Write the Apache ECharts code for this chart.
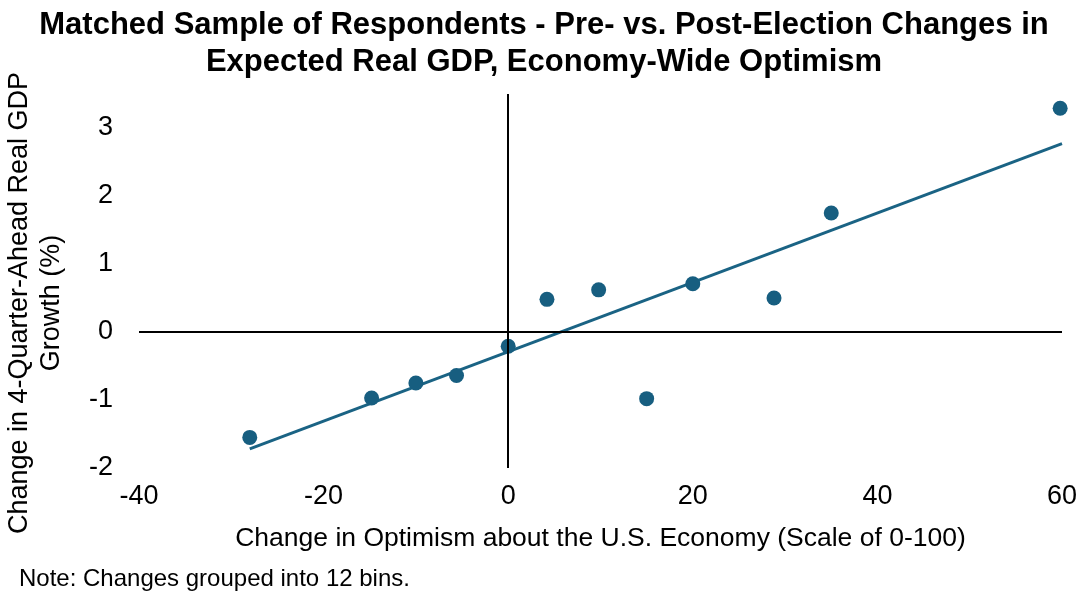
<!DOCTYPE html>
<html>
<head>
<meta charset="utf-8">
<script src="https://cdn.jsdelivr.net/npm/echarts@6/dist/echarts.min.js"></script>
<style>
  html, body { margin:0; padding:0; background:#fff; }
  #chart { width:1088px; height:602px; }
</style>
</head>
<body>
<div id="chart"></div>
<script>
// binned changes: optimism (x) vs expected real GDP growth (y)
var optimismChange = [-28, -14.8, -10, -5.6, 0, 4.2, 9.8, 15, 20, 28.8, 35, 59.8];
var gdpChange = [-1.55, -0.97, -0.75, -0.64, -0.21, 0.48, 0.62, -0.98, 0.71, 0.50, 1.75, 3.29];
// fitted line end points
var fitX = [-28, 60];
var fitY = [-1.72, 2.77];

var titleText = 'Matched Sample of Respondents - Pre- vs. Post-Election Changes in\nExpected Real GDP, Economy-Wide Optimism';
var xName = 'Change in Optimism about the U.S. Economy (Scale of 0-100)';
var yName = 'Change in 4-Quarter-Ahead Real GDP\nGrowth (%)';
var noteText = 'Note: Changes grouped into 12 bins.';

var FONT = 'Arial, "Liberation Sans", sans-serif';
var DOT = '#175E80';
var LINE = '#1A6384';

var chart = echarts.init(document.getElementById('chart'), null, {renderer:'canvas'});

var points = [];
for (var i = 0; i < optimismChange.length; i++) {
  points.push([optimismChange[i], gdpChange[i]]);
}
var fitPoints = [];
for (var j = 0; j < fitX.length; j++) {
  fitPoints.push([fitX[j], fitY[j]]);
}

var option = {
  animation:false,
  backgroundColor:'#fff',
  title:[
    {
      text:titleText,
      left:'center',
      top:2,
      textStyle:{
        fontFamily:FONT,
        fontWeight:'bold',
        fontSize:31,
        lineHeight:37,
        color:'#000'
      }
    },
    {
      text:noteText,
      left:14,
      top:562,
      textStyle:{
        fontFamily:FONT,
        fontWeight:'normal',
        fontSize:24,
        color:'#000'
      }
    }
  ],
  graphic:[
    {
      type:'text',
      x:36,
      y:303,
      rotation:Math.PI/2,
      style:{
        text:yName,
        font:'27px ' + FONT,
        lineHeight:32,
        fill:'#000',
        align:'center',
        verticalAlign:'middle'
      }
    }
  ],
  grid:{
    left:139,
    right:26,
    top:94,
    bottom:134
  },
  xAxis:{
    type:'value',
    min:-40,
    max:60,
    interval:20,
    name:xName,
    nameLocation:'middle',
    nameGap:57,
    nameTextStyle:{fontFamily:FONT, fontSize:26.5, color:'#000'},
    axisLine:{show:false},
    axisTick:{show:false},
    splitLine:{show:false},
    axisLabel:{fontFamily:FONT, fontSize:27, color:'#000', margin:15}
  },
  yAxis:{
    type:'value',
    min:-2,
    max:3.5,
    interval:1,
    axisLine:{show:false},
    axisTick:{show:false},
    splitLine:{show:false},
    axisLabel:{
      fontFamily:FONT, fontSize:27, color:'#000', margin:26,
      showMaxLabel:false
    }
  },
  series:[
    {
      // zero lines crossing the plot
      type:'line',
      data:[],
      z:1,
      silent:true,
      markLine:{
        silent:true,
        symbol:['none','none'],
        label:{show:false},
        lineStyle:{color:'#000', width:2, type:'solid'},
        data:[{xAxis:0}, {yAxis:0}]
      }
    },
    {
      type:'line',
      data:fitPoints,
      z:2,
      showSymbol:false,
      symbol:'none',
      lineStyle:{color:LINE, width:3}
    },
    {
      type:'scatter',
      data:points,
      z:3,
      symbolSize:15,
      itemStyle:{color:DOT, opacity:1}
    }
  ]
};
chart.setOption(option);
</script>
</body>
</html>
